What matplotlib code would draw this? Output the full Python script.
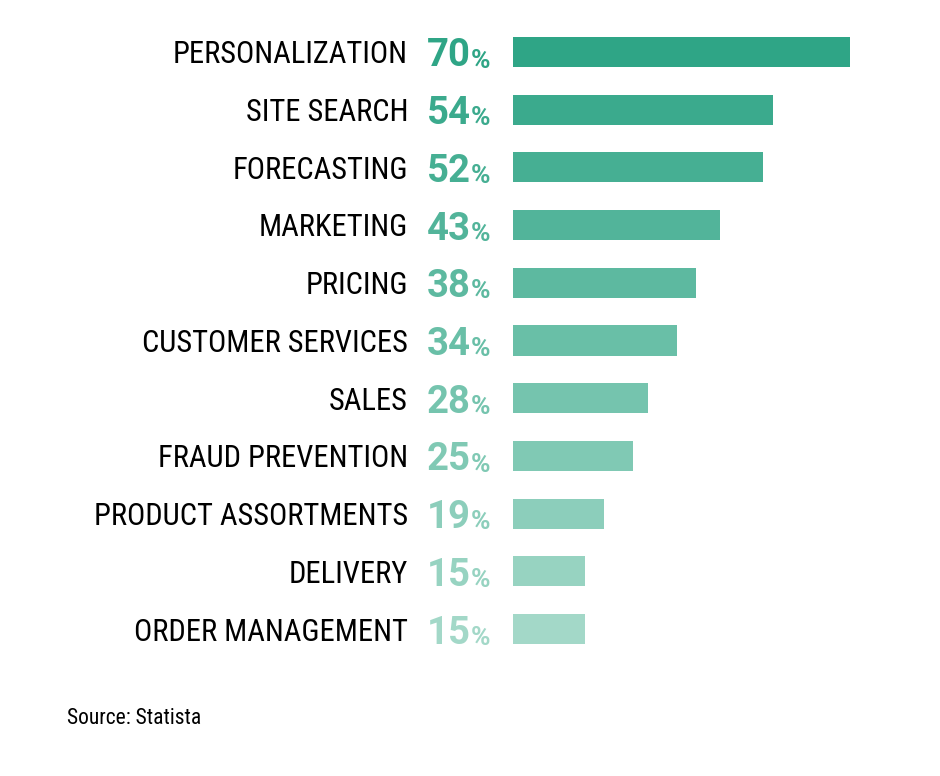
import matplotlib.pyplot as plt
import matplotlib.font_manager as fm
from matplotlib.colors import to_rgb

categories = ["PERSONALIZATION", "SITE SEARCH", "FORECASTING", "MARKETING", "PRICING",
              "CUSTOMER SERVICES", "SALES", "FRAUD PREVENTION", "PRODUCT ASSORTMENTS",
              "DELIVERY", "ORDER MANAGEMENT"]
values = [70, 54, 52, 43, 38, 34, 28, 25, 19, 15, 15]
source = "Source: Statista"

names = {f.name for f in fm.fontManager.ttflist}
fam = [n for n in ["Roboto Condensed", "Liberation Sans Narrow", "Roboto"] if n in names] + ["DejaVu Sans"]
plt.rcParams["font.family"] = fam
num_fam = ["Roboto", "DejaVu Sans"]

top = to_rgb("#2fa586")
bottom = to_rgb("#a3d8c8")
n = len(values)
colors = [tuple(top[k] + (bottom[k] - top[k]) * i / (n - 1) for k in range(3)) for i in range(n)]

W, H = 940, 776
fig = plt.figure(figsize=(W / 100, H / 100), dpi=100)
px = 337 / 70  # pixels per percent
x_max = 85
ax = fig.add_axes([513 / W, 1 - 658 / H, x_max * px / W, (658 - 23) / H])
ax.set_xlim(0, x_max)
ax.set_ylim(n - 0.5, -0.5)
ax.axis("off")

y = list(range(n))
ax.barh(y, values, height=0.52, color=colors)

lab_x = (408 - 513) / px
num_x = (471 - 513) / px
pct_x = (471 - 513) / px
for i, (c, v) in enumerate(zip(categories, values)):
    ax.text(lab_x, i + 0.05, c, ha="right", va="center", fontsize=22, color="black", clip_on=False)
    ax.text(num_x, i + 0.07, str(v), ha="right", va="center", fontsize=27.5, fontweight="bold",
            family=num_fam, color=colors[i], clip_on=False)
    ax.text(pct_x, i + 0.15, "%", ha="left", va="center", fontsize=19, fontweight="bold",
            family=num_fam, color=colors[i], clip_on=False)

fig.text(67 / W, 1 - 719 / H, source, ha="left", va="center", fontsize=15.5, color="black")

fig.savefig("out.png", dpi=100)
